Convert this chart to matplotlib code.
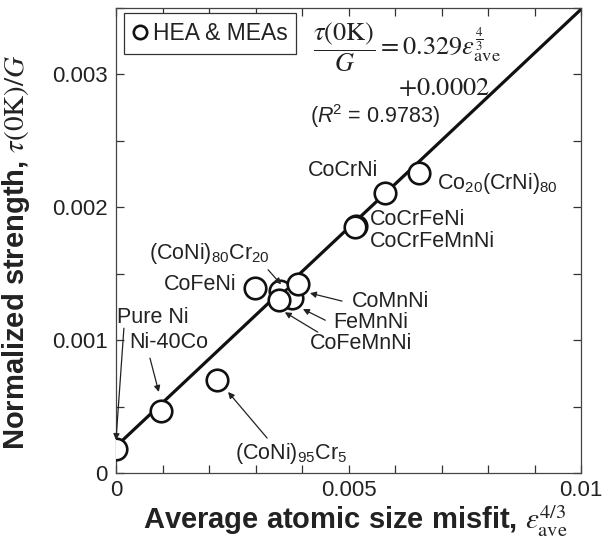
import matplotlib
matplotlib.use("Agg")
import matplotlib.pyplot as plt
from matplotlib.ticker import MultipleLocator, FuncFormatter
import numpy as np

# alloy data: average atomic size misfit eps^(4/3) vs normalized strength tau(0K)/G
alloys = ["Pure Ni", "Ni-40Co", "(CoNi)95Cr5", "CoFeNi", "(CoNi)80Cr20", "FeMnNi",
          "CoMnNi", "CoFeMnNi", "CoCrFeNi", "CoCrFeMnNi", "CoCrNi", "Co20(CrNi)80"]
misfit = [0.0, 0.00097, 0.00217, 0.00299, 0.00352, 0.00378,
          0.00391, 0.00350, 0.00516, 0.00514, 0.00578, 0.00652]
strength = [0.00018, 0.00047, 0.00070, 0.00139, 0.00137, 0.00132,
            0.00142, 0.00130, 0.00186, 0.00185, 0.00211, 0.00226]

# linear fit reported on the chart
fit_slope = 0.329
fit_intercept = 0.0002
fit_r2 = 0.9783

plt.rcParams["font.family"] = ["Liberation Sans", "DejaVu Sans"]
plt.rcParams["mathtext.fontset"] = "stix"
plt.rcParams["mathtext.rm"] = "Liberation Sans"
plt.rcParams["mathtext.it"] = "Liberation Sans:italic"
plt.rcParams["mathtext.bf"] = "Liberation Sans:bold"

LABEL_FS = 15.5
INK = "#222222"

fig = plt.figure(figsize=(6.08, 5.44), dpi=100)
ax = fig.add_axes([0.1908, 0.1305, 0.7648, 0.8548])

xfit = np.linspace(0, 0.01, 50)
ax.plot(xfit, fit_slope * xfit + fit_intercept, color="#111111", lw=2.3, zorder=2)

ax.plot(misfit, strength, linestyle="none", marker="o", ms=15.5, mfc="white",
        mec="#111111", mew=1.9, zorder=3, label="HEA & MEAs")

ax.set_xlim(0, 0.01)
ax.set_ylim(0, 0.0035)

fmt = FuncFormatter(lambda v, pos: "%g" % round(v, 6))
ax.xaxis.set_major_locator(MultipleLocator(0.005))
ax.xaxis.set_minor_locator(MultipleLocator(0.001))
ax.yaxis.set_major_locator(MultipleLocator(0.001))
ax.yaxis.set_minor_locator(MultipleLocator(0.0005))
ax.xaxis.set_major_formatter(fmt)
ax.yaxis.set_major_formatter(fmt)
ax.tick_params(which="both", direction="in", top=True, right=True, length=6,
               width=0.9, color="#333333", labelsize=16, labelcolor=INK)
ax.tick_params(axis="x", pad=5)
ax.tick_params(axis="y", pad=6)
for sp in ax.spines.values():
    sp.set_color("#444444")
    sp.set_linewidth(0.9)

ax.set_xlabel(r"Average atomic size misfit, $\epsilon_{\mathrm{ave}}^{4/3}$",
              fontsize=21, fontweight="bold", color=INK)
ax.set_ylabel(r"Normalized strength, $\tau(0\mathrm{K})/G$",
              fontsize=21, fontweight="bold", color=INK)
ax.xaxis.set_label_coords(0.515, -0.066)
ax.yaxis.set_label_coords(-0.18, 0.475)

leg = ax.legend(loc="upper left", bbox_to_anchor=(0.017, 0.99), fancybox=False,
                edgecolor="#333333", fontsize=16.5, markerscale=0.62,
                handlelength=0.6, handletextpad=0.25, borderpad=0.4,
                borderaxespad=0, framealpha=1)
leg.get_frame().set_linewidth(0.9)
for t in leg.get_texts():
    t.set_color(INK)

# fit equation
ax.text(0.00424, 0.00320,
        r"$\dfrac{\tau(0\mathrm{K})}{G} = 0.329\epsilon_{\mathrm{ave}}^{\frac{4}{3}}$",
        fontsize=19, ha="left", va="center", color=INK)
ax.text(0.00606, 0.00290, r"$+0.0002$", fontsize=19, ha="left", va="center", color=INK)
ax.text(0.00417, 0.00269, r"($R$$^2$ = %.4f)" % fit_r2, fontsize=15.5, ha="left",
        va="center", color=INK, math_fontfamily="custom")

arrow = dict(arrowstyle="-|>", color=INK, lw=0.9, mutation_scale=9,
             shrinkA=0, shrinkB=0)


def label(text, xytext, ha="left"):
    ax.text(*xytext, text, fontsize=LABEL_FS, ha=ha, va="center", color=INK,
            math_fontfamily="custom")


def pointer(xy, xytext):
    ax.annotate("", xy=xy, xytext=xytext, arrowprops=arrow)


label("Pure Ni", (0.00002, 0.00117))
pointer((0.0, 0.000248), (0.00017, 0.00109))
label("Ni-40Co", (0.00028, 0.00098))
pointer((0.00092, 0.00061), (0.00073, 0.000865))
label(r"(CoNi)$_{95}$Cr$_{5}$", (0.00256, 0.00015))
pointer((0.00241, 0.00061), (0.00325, 0.000263))
label("CoFeNi", (0.0026, 0.00142), ha="right")
label(r"(CoNi)$_{80}$Cr$_{20}$", (0.00071, 0.001655))
pointer((0.00355, 0.00142), (0.00327, 0.00153))
label("CoMnNi", (0.00508, 0.00129))
pointer((0.00417, 0.001354), (0.00486, 0.001294))
label("FeMnNi", (0.00467, 0.001136))
pointer((0.00402, 0.001234), (0.0045, 0.00115))
label("CoFeMnNi", (0.00417, 0.000975))
pointer((0.00363, 0.00121), (0.00434, 0.00106))
label("CoCrNi", (0.00563, 0.00228), ha="right")
label(r"Co$_{20}$(CrNi)$_{80}$", (0.0069, 0.00218))
label("CoCrFeNi", (0.00546, 0.00191))
label("CoCrFeMnNi", (0.00546, 0.00174))

fig.savefig("out.png", dpi=100)
